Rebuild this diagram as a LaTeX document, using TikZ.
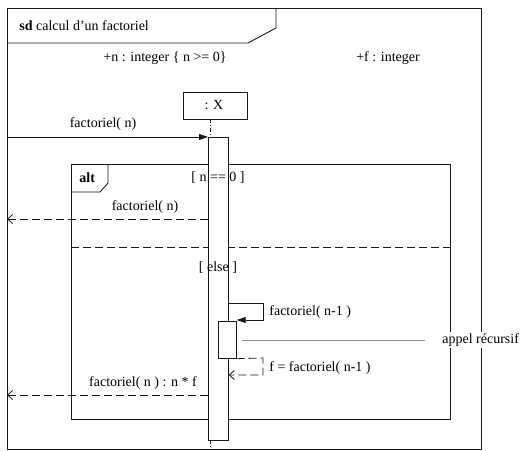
\documentclass[tikz,border=0pt]{standalone}
\usepackage{fontspec}
\setmainfont{Liberation Serif}
\usetikzlibrary{arrows.meta}
\begin{document}
\begin{tikzpicture}[x=1pt,y=-1pt, line width=0.8pt, draw=black!90,
 lbl/.style={font=\fontsize{14}{16}\selectfont, inner sep=1pt, text=black},
 call/.style={-{Triangle[length=9pt,width=6pt]}},
 ret/.style={dash pattern=on 8pt off 4pt, -{Straight Barb[length=5pt,width=9pt]}},
 bar/.style={draw, fill=white, line width=0.7pt, inner sep=0pt, anchor=north west},
 frm/.style={line width=0.9pt},
 life/.style={line width=0.6pt, dash pattern=on 4pt off 2pt on 1pt off 2pt}]
\useasboundingbox (0,0) rectangle (522,450);
\fill[white] (0,0) rectangle (522,450);
% outer frame
\draw[frm] (7,8) rectangle (481,449);
\draw[frm] (7,43) -- (248,43) -- (276,28) -- (276,8);
\node[lbl, anchor=west] (title) at (18,26) {\textbf{sd} calcul d’un factoriel};
\node[lbl] (pn) at (165,58) {+n : integer \{ n >= 0\}};
\node[lbl] (pf) at (388,58) {+f : integer};
% lifeline
\node[draw, line width=0.8pt, minimum width=64pt, minimum height=27pt, inner sep=0pt, anchor=north west] (X) at (183,92) {};
\node[lbl] (Xt) at (214,105) {: X};
\coordinate (l1) at (210,119);
\coordinate (l2) at (210,137);
\coordinate (l3) at (210,440);
\coordinate (l4) at (210,450);
\draw[life] (l1) -- (l2);
\draw[life] (l3) -- (l4);
% alt frame
\draw[frm] (71,164) rectangle (450,419);
\draw[frm] (71,192) -- (100,192) -- (108,183) -- (108,164);
\node[lbl, anchor=west] (alt) at (78,178) {\textbf{alt}};
\coordinate (s1) at (71,247);
\coordinate (s2) at (450,247);
\draw[dash pattern=on 8pt off 4pt] (s1) -- (s2);
% activation bars
\node[bar, minimum width=20pt, minimum height=303pt] (act) at (208,137) {};
\node[bar, minimum width=18pt, minimum height=37pt] (act2) at (218,321) {};
\node[lbl] (g1) at (218,178) {[ n == 0 ]};
\node[lbl] (g2) at (218,268) {[ else ]};
% messages
\coordinate (in1) at (7,137);
\draw[call] (in1) -- (act.west |- in1);
\node[lbl] (m1) at (103,124) {factoriel( n)};
\coordinate (out1) at (7,219);
\draw[ret] (act.west |- out1) -- (out1);
\node[lbl] (m2) at (145,207) {factoriel( n)};
\coordinate (sc1) at (228,303);
\coordinate (sc2) at (263,303);
\coordinate (sc3) at (263,320);
\draw[call] (sc1) -- (sc2) -- (sc3) -- (act2.east |- sc3);
\node[lbl, anchor=west] (m3) at (268,312) {factoriel( n-1 )};
\coordinate (sr1) at (263,358);
\coordinate (sr2) at (263,375);
\draw[ret] (act2.south east) -- (sr1) -- (sr2) -- (act.east |- sr2);
\node[lbl, anchor=west] (m4) at (268,368) {f = factoriel( n-1 )};
\coordinate (out2) at (7,395);
\draw[ret] (act.west |- out2) -- (out2);
\node[lbl] (m5) at (143,383) {factoriel( n ) : n * f};
% note
\coordinate (n1) at (242,340);
\node[lbl, anchor=west, fill=white, inner sep=2pt] (note) at (440,340) {appel récursif};
\draw[black!45, line width=0.7pt] (n1) -- (425,340);
\end{tikzpicture}
\end{document}
